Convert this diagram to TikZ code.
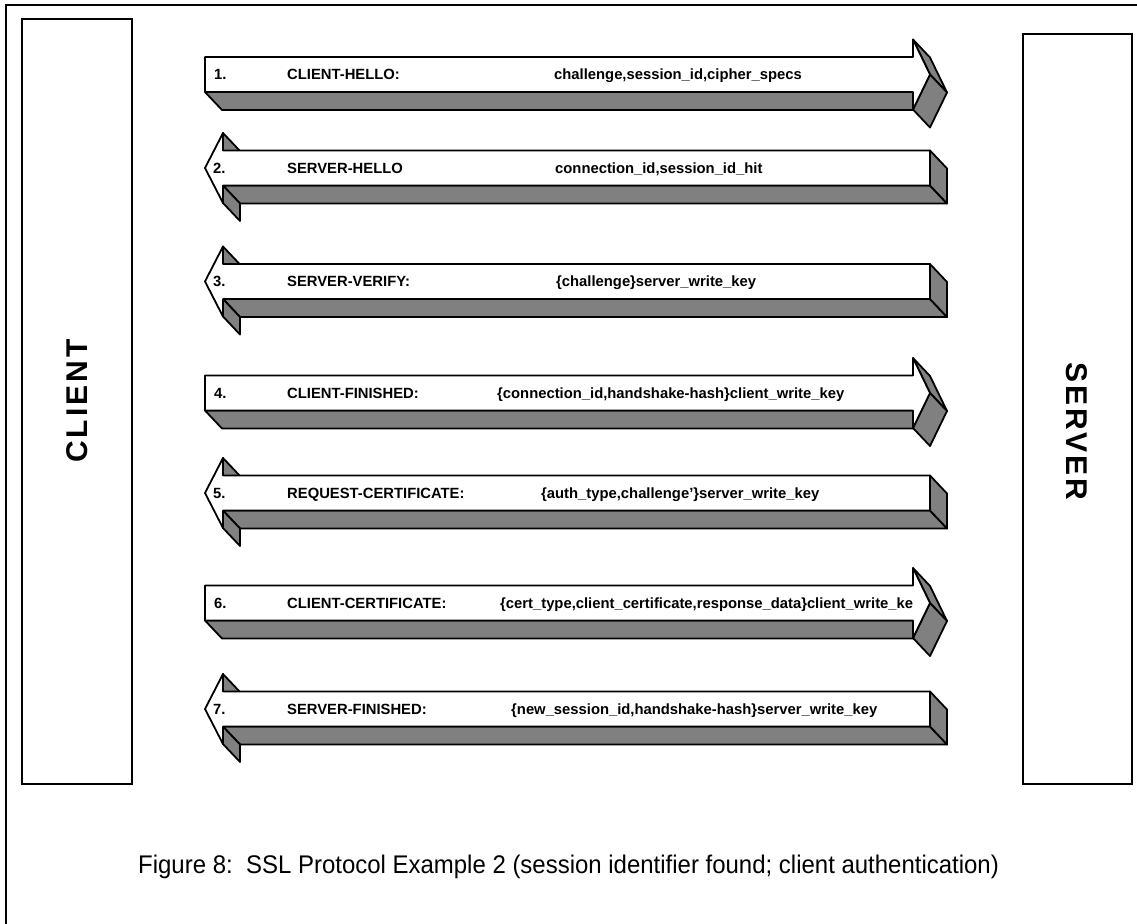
\documentclass[tikz,border=0pt]{standalone}
\usepackage{fontspec}
\setmainfont{Liberation Sans}

\tikzset{
  frame/.style={line width=1.8pt},
  party/.style={draw, line width=1.8pt, inner sep=0pt},
  partyname/.style={font=\fontsize{30}{36}\selectfont\bfseries\addfontfeatures{LetterSpace=10}},
  face/.style={draw, line width=1.8pt, line join=round, fill=white},
  side/.style={draw, line width=1.8pt, line join=round, fill=black!50},
  msg/.style={font=\fontsize{14.8}{17}\selectfont\bfseries, anchor=base west, inner sep=0pt},
  caption/.style={font=\fontsize{25.5}{30}\selectfont\addfontfeatures{FakeStretch=0.94}, anchor=base west, inner sep=0pt},
  % slab pointing right, origin at the middle of its tail end
  rslab/.pic={
    \path[side] (0,17.5) -- (708,17.5) -- (725,35.5) -- (17,35.5) -- cycle;
    \path[side] (708,-35) -- (725,0) -- (742,18) -- (725,-17) -- cycle;
    \path[side] (725,0) -- (708,35) -- (725,53) -- (742,18) -- cycle;
    \path[face] (0,-17.5) -- (708,-17.5) -- (708,-35) -- (725,0) -- (708,35)
                -- (708,17.5) -- (0,17.5) -- cycle;
  },
  % slab pointing left, origin at its tip
  lslab/.pic={
    \path[side] (725,17.5) -- (18,17.5) -- (35,35.5) -- (742,35.5) -- cycle;
    \path[side] (18,17.5) -- (18,35) -- (35,53) -- (35,35.5) -- cycle;
    \path[side] (725,-17.5) -- (725,17.5) -- (742,35.5) -- (742,0.5) -- cycle;
    \path[side] (18,-35) -- (18,-17.5) -- (35,0.5) -- (35,-17) -- cycle;
    \path[face] (0,0) -- (18,-35) -- (18,-17.5) -- (725,-17.5) -- (725,17.5)
                -- (18,17.5) -- (18,35) -- cycle;
  }
}

\begin{document}
\begin{tikzpicture}[x=1pt,y=-1pt]
\useasboundingbox (0,0) rectangle (1137,923);

% outer frame
\draw[frame] (1140,5) -- (6,5) -- (6,926);

% the two parties
\node[party, minimum width=110pt, minimum height=765pt] (client) at (77,401.5) {};
\node[party, minimum width=109pt, minimum height=750pt] (server) at (1077.5,409) {};
\node[partyname, rotate=90] (clientname) at (77,401) {CLIENT};
\node[partyname, rotate=-90] (servername) at (1077,431) {SERVER};

% message slabs
\pic (s1) at (205,74.5) {rslab};
\pic (s2) at (205,168) {lslab};
\pic (s3) at (205,281.5) {lslab};
\pic (s4) at (205,393) {rslab};
\pic (s5) at (205,493) {lslab};
\pic (s6) at (205,603) {rslab};
\pic (s7) at (205,709) {lslab};

% message texts
\node[msg] (n1) at (214,79.8) {1.};
\node[msg] (m1) at (287,79.8) {CLIENT-HELLO:};
\node[msg] (p1) at (554,79.8) {challenge,session\_id,cipher\_specs};

\node[msg] (n2) at (213,173.3) {2.};
\node[msg] (m2) at (287,173.3) {SERVER-HELLO};
\node[msg] (p2) at (555,173.3) {connection\_id,session\_id\_hit};

\node[msg] (n3) at (213,286.8) {3.};
\node[msg] (m3) at (287,286.8) {SERVER-VERIFY:};
\node[msg] (p3) at (556,286.8) {\{challenge\}server\_write\_key};

\node[msg] (n4) at (214,398.3) {4.};
\node[msg] (m4) at (287,398.3) {CLIENT-FINISHED:};
\node[msg] (p4) at (497,398.3) {\{connection\_id,handshake-hash\}client\_write\_key};

\node[msg] (n5) at (213,498.3) {5.};
\node[msg] (m5) at (287,498.3) {REQUEST-CERTIFICATE:};
\node[msg] (p5) at (541,498.3) {\{auth\_type,challenge'\}server\_write\_key};

\node[msg] (n6) at (214,608.3) {6.};
\node[msg] (m6) at (287,608.3) {CLIENT-CERTIFICATE:};
\node[msg] (p6) at (500,608.3) {\{cert\_type,client\_certificate,response\_data\}client\_write\_ke};

\node[msg] (n7) at (213,714.3) {7.};
\node[msg] (m7) at (287,714.3) {SERVER-FINISHED:};
\node[msg] (p7) at (511,714.3) {\{new\_session\_id,handshake-hash\}server\_write\_key};

% caption
\node[caption] (cap) at (138,873) {Figure 8:\ \ SSL Protocol Example 2 (session identifier found; client authentication)};
\end{tikzpicture}
\end{document}
